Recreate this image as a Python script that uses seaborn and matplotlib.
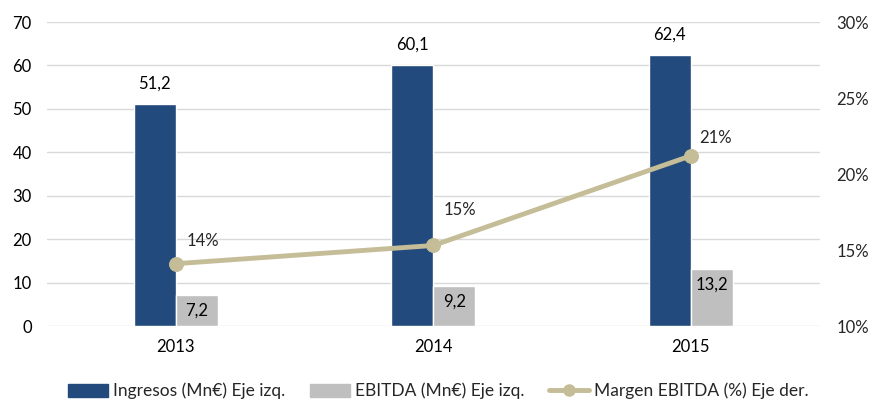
import matplotlib
matplotlib.use("Agg")
import matplotlib.pyplot as plt
import seaborn as sns
import pandas as pd
from matplotlib.patches import Patch
from matplotlib.lines import Line2D

years = ["2013", "2014", "2015"]
ingresos = [51.2, 60.1, 62.4]
ebitda = [7.2, 9.2, 13.2]
margen = [14.1, 15.3, 21.2]
margen_labels = ["14%", "15%", "21%"]
left_ticks = [0, 10, 20, 30, 40, 50, 60, 70]
right_ticks = [10, 15, 20, 25, 30]
series_names = ["Ingresos (Mn€) Eje izq.", "EBITDA (Mn€) Eje izq.", "Margen EBITDA (%) Eje der."]

BLUE = "#224A7C"
GRAY = "#BFBFBF"
TAN = "#C4BD97"
FS = 12

sns.set_theme(style="white")
plt.rcParams["font.family"] = ["Lato", "DejaVu Sans"]

df = pd.DataFrame({
    "year": years * 2,
    "value": ingresos + ebitda,
    "serie": [series_names[0]] * 3 + [series_names[1]] * 3,
})

fig = plt.figure(figsize=(8.77, 4.01), dpi=100)
ax = fig.add_axes([0.0536, 0.187, 0.881, 0.758])
sns.barplot(data=df, x="year", y="value", hue="serie", order=years,
            palette=[BLUE, GRAY], width=0.326, dodge=True, gap=0,
            saturation=1, ax=ax, legend=False)
ax.set_xlim(-0.5, 2.5)
ax.set_ylim(0, 70)
ax.set_yticks(left_ticks)
ax.set_xlabel("")
ax.set_ylabel("")
ax.grid(axis="y", color="#D9D9D9", linewidth=1)
ax.set_axisbelow(True)
for s in ax.spines.values():
    s.set_visible(False)
ax.tick_params(axis="both", length=0, labelsize=FS, colors="#000000")
ax.tick_params(axis="x", pad=9)
ax.tick_params(axis="y", pad=11)

# labels on bars
for cont, off in zip(ax.containers, [20, -16]):
    for bar in cont:
        h = bar.get_height()
        ax.annotate(f"{h:.1f}".replace(".", ","),
                    (bar.get_x() + bar.get_width() / 2, h),
                    xytext=(0, off), textcoords="offset pixels",
                    ha="center", va="center", fontsize=FS, color="black")

ax2 = ax.twinx()
sns.lineplot(x=[0, 1, 2], y=margen, ax=ax2, color=TAN, linewidth=3.5,
             marker="o", markersize=10, markeredgecolor=TAN,
             markerfacecolor=TAN)
ax2.set_ylim(10, 30)
ax2.set_yticks(right_ticks)
ax2.set_yticklabels([f"{t}%" for t in right_ticks])
for s in ax2.spines.values():
    s.set_visible(False)
ax2.tick_params(axis="y", length=0, labelsize=FS, pad=12)
ax2.grid(False)

offsets = [(27, 23), (27, 35), (25, 18)]
for i, (v, lab) in enumerate(zip(margen, margen_labels)):
    ax2.annotate(lab, (i, v), xytext=offsets[i], textcoords="offset pixels",
                 ha="center", va="center", fontsize=FS)

handles = [Patch(facecolor=BLUE, edgecolor=BLUE),
           Patch(facecolor=GRAY, edgecolor=GRAY),
           Line2D([0], [0], color=TAN, linewidth=3.5, marker="o", markersize=8)]
fig.legend(handles, series_names, loc="center", bbox_to_anchor=(0.5, 0.025),
           ncol=3, frameon=False, fontsize=12.5, handlelength=2.3,
           handleheight=0.8, columnspacing=1.4, handletextpad=0.3)

fig.savefig("out.png", dpi=100)
